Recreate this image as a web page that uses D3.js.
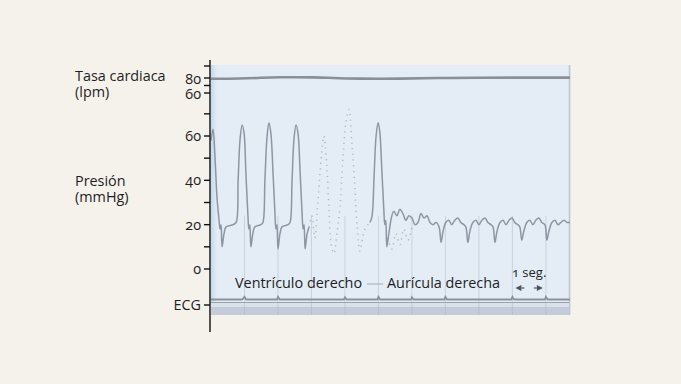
<!DOCTYPE html>
<html>
<head>
<meta charset="utf-8">
<script src="https://cdn.jsdelivr.net/npm/d3@7"></script>
<style>
  body { margin: 0; background: #f5f2ec; }
  svg { display: block; font-family: "Open Sans", "Noto Sans", sans-serif; }
  .lbl { fill: #1e1e1e; font-size: 14.4px; font-variant-numeric: oldstyle-nums; font-feature-settings: "onum" 1; }
  .trace { fill: none; stroke: #838c9a; stroke-width: 1.5; stroke-linejoin: round; opacity: 0.9; }
  .dots { fill: none; stroke: #7b8492; stroke-width: 1.5; stroke-dasharray: 1.2 4.5; opacity: 0.5; }
</style>
</head>
<body>
<svg width="681" height="384"></svg>
<script>
// time in seconds, pressure in mmHg, heart rate in lpm
const pressureTicks = [0, 10, 20, 30, 40, 50, 60, 70];
const pressureLabels = [0, 20, 40, 60];
const hrTicks = [60, 70, 80, 96];
const hrLabels = [60, 80];
const timeMarks = [1, 2, 3, 4, 5, 6, 7, 8, 9, 10];

// heart rate trace
const heartRate = [
  [0, 79], [0.87, 79], [1.61, 80.5], [1.91, 81], [3.25, 81], [3.55, 80],
  [4.45, 79], [5.64, 79], [6.84, 80], [7.43, 80.5], [10.72, 80.5]
];

// right ventricle, first part (solid)
const rvPressure1 = [
  [0.00, 58], [0.06, 63], [0.12, 50], [0.18, 32], [0.24, 22], [0.27, 18], [0.30, 20],
  [0.33, 10], [0.39, 16], [0.45, 19], [0.66, 20], [0.75, 21], [0.81, 40], [0.87, 59],
  [0.93, 65], [0.99, 61], [1.04, 44], [1.10, 25], [1.13, 18], [1.16, 20], [1.19, 10],
  [1.25, 16], [1.31, 19], [1.49, 20], [1.55, 21], [1.61, 40], [1.67, 59], [1.73, 66],
  [1.79, 61], [1.85, 44], [1.91, 25], [1.94, 18], [1.97, 20], [2.00, 9], [2.06, 16],
  [2.12, 19], [2.30, 20], [2.36, 21], [2.42, 40], [2.48, 59], [2.54, 65], [2.60, 61],
  [2.66, 44], [2.72, 25], [2.75, 18], [2.78, 20], [2.81, 9], [2.87, 16], [2.93, 19]
];

// catheter pull-back artefact (faint, dotted)
const pullback = [
  [2.93, 19], [3.01, 24], [3.10, 14], [3.19, 30], [3.28, 48], [3.37, 60], [3.46, 46],
  [3.52, 28], [3.58, 12], [3.67, 7], [3.76, 16], [3.85, 28], [3.94, 50], [4.03, 66],
  [4.12, 72], [4.21, 56], [4.30, 36], [4.36, 20], [4.45, 8], [4.54, 15], [4.63, 19],
  [4.75, 21]
];

// right ventricle, last beat (solid)
const rvPressure2 = [
  [4.75, 21], [4.81, 24], [4.87, 42], [4.93, 60], [4.99, 66], [5.04, 62], [5.10, 45],
  [5.16, 27], [5.19, 20], [5.22, 22], [5.25, 10], [5.31, 16], [5.37, 22]
];

// right atrium (solid)
const raPressure = [
  [5.37, 22], [5.46, 26], [5.55, 24], [5.64, 27], [5.73, 25], [5.82, 22], [5.91, 24],
  [6.00, 23], [6.09, 20], [6.18, 21], [6.27, 25], [6.36, 23], [6.45, 24], [6.54, 21],
  [6.63, 20], [6.72, 21], [6.81, 19], [6.87, 12], [6.93, 17], [7.01, 21], [7.10, 22],
  [7.19, 20], [7.28, 22], [7.37, 23], [7.46, 21], [7.55, 20], [7.61, 19], [7.67, 12],
  [7.73, 17], [7.82, 21], [7.91, 22], [8.00, 20], [8.09, 22], [8.18, 23], [8.27, 21],
  [8.36, 20], [8.42, 19], [8.48, 12], [8.54, 17], [8.63, 21], [8.72, 22], [8.81, 20],
  [8.90, 22], [8.99, 23], [9.07, 21], [9.16, 20], [9.22, 19], [9.28, 13], [9.34, 17],
  [9.43, 21], [9.52, 22], [9.61, 20], [9.70, 22], [9.79, 23], [9.88, 21], [9.97, 20],
  [10.03, 13], [10.09, 17], [10.18, 21], [10.27, 22], [10.36, 20], [10.45, 21],
  [10.54, 22], [10.63, 21], [10.72, 21]
];

// scattered pen marks at the transition
const raScatter = [
  [5.28, 14], [5.40, 9], [5.52, 16], [5.64, 11], [5.76, 18], [5.88, 13], [6.00, 19]
];

// ECG strip (arbitrary units)
const ecg = [
  [0, 0], [0.93, 0], [1.0, 0.6], [1.05, 0], [1.97, 0], [2.0, 0.6], [2.05, 0],
  [3.97, 0], [4.0, 0.5], [4.05, 0], [4.97, 0], [5.0, 0.6], [5.05, 0], [5.97, 0],
  [6.0, 0.5], [6.05, 0], [6.97, 0], [7.0, 0.6], [7.05, 0], [8.97, 0], [9.0, 0.6],
  [9.05, 0], [9.97, 0], [10.0, 0.6], [10.05, 0], [10.72, 0]
];

const panel = { left: 211, right: 571, top: 65, bottom: 315 };
const axisX = 210;

const svg = d3.select('svg');

const x = d3.scaleLinear().domain([0, 10.75]).range([panel.left, panel.right]);
const yP = d3.scaleLinear().domain([0, 60]).range([269, 136]);
const yHR = d3.scaleLinear().domain([60, 80]).range([93, 78]);
const yECG = d3.scaleLinear().domain([0, 1]).range([299.5, 295]);

// paper strip
const defs = svg.append('defs');
const grad = defs.append('linearGradient').attr('id', 'edge');
grad.append('stop').attr('offset', '0').attr('stop-color', '#c6d8ec');
grad.append('stop').attr('offset', '1').attr('stop-color', '#e4edf6');

svg.append('rect')
  .attr('x', panel.left).attr('y', panel.top)
  .attr('width', panel.right - panel.left).attr('height', panel.bottom - panel.top)
  .attr('fill', '#e4edf6');
svg.append('rect')
  .attr('x', panel.left).attr('y', panel.top)
  .attr('width', 6).attr('height', panel.bottom - panel.top)
  .attr('fill', 'url(#edge)');
svg.append('line')
  .attr('x1', panel.right - 1.5).attr('x2', panel.right - 1.5)
  .attr('y1', panel.top).attr('y2', panel.bottom)
  .attr('stroke', '#bcc7d3').attr('stroke-width', 1.5);

// ECG band
svg.append('rect')
  .attr('x', panel.left).attr('y', 303)
  .attr('width', panel.right - panel.left - 2).attr('height', 4)
  .attr('fill', '#d9e1eb');
svg.append('rect')
  .attr('x', panel.left).attr('y', 307)
  .attr('width', panel.right - panel.left - 2).attr('height', panel.bottom - 307)
  .attr('fill', '#c4ccda');

// time marks
svg.append('g')
  .selectAll('line')
  .data(timeMarks)
  .enter()
  .append('line')
  .attr('x1', d => x(d)).attr('x2', d => x(d))
  .attr('y1', yP(24)).attr('y2', panel.bottom)
  .attr('stroke', '#a3adba').attr('stroke-width', 1).attr('opacity', 0.4);

const line = (yScale) => d3.line()
  .x(d => x(d[0]))
  .y(d => yScale(d[1]));

// heart rate
svg.append('path')
  .datum(heartRate)
  .attr('fill', 'none')
  .attr('stroke', '#89909a')
  .attr('stroke-width', 2.6)
  .attr('d', line(yHR).curve(d3.curveBasis));

// ECG lines
svg.append('path')
  .datum(ecg)
  .attr('fill', 'none')
  .attr('stroke', '#8b929c')
  .attr('stroke-width', 1.8)
  .attr('d', line(yECG));
svg.append('line')
  .attr('x1', panel.left).attr('x2', panel.right - 2)
  .attr('y1', 302.5).attr('y2', 302.5)
  .attr('stroke', '#9aa1ab').attr('stroke-width', 1.2);

// pressure traces
[rvPressure1, rvPressure2, raPressure].forEach(s => {
  svg.append('path')
    .datum(s)
    .attr('class', 'trace')
    .attr('d', line(yP).curve(d3.curveCatmullRom));
});
[pullback, raScatter].forEach(s => {
  svg.append('path')
    .datum(s)
    .attr('class', 'dots')
    .attr('d', line(yP).curve(d3.curveCatmullRom));
});

// vertical axis
svg.append('line')
  .attr('x1', axisX).attr('x2', axisX)
  .attr('y1', 60).attr('y2', 332)
  .attr('stroke', '#111').attr('stroke-width', 1.4);

const tick = (g, y) => g.append('line')
  .attr('x1', axisX - 6).attr('x2', axisX)
  .attr('y1', y).attr('y2', y)
  .attr('stroke', '#111').attr('stroke-width', 1.4);

const axisG = svg.append('g');
pressureTicks.forEach(v => tick(axisG, yP(v)));
hrTicks.forEach(v => tick(axisG, yHR(v)));
tick(axisG, 305);

axisG.selectAll('text.p')
  .data(pressureLabels)
  .enter()
  .append('text')
  .attr('class', 'lbl p')
  .attr('x', axisX - 9)
  .attr('y', d => yP(d))
  .attr('dy', '0.35em')
  .attr('text-anchor', 'end')
  .text(d => d);

axisG.selectAll('text.h')
  .data(hrLabels)
  .enter()
  .append('text')
  .attr('class', 'lbl h')
  .attr('x', axisX - 9)
  .attr('y', d => yHR(d) + 1)
  .attr('dy', '0.35em')
  .attr('text-anchor', 'end')
  .text(d => d);

axisG.append('text')
  .attr('class', 'lbl')
  .attr('x', axisX - 9).attr('y', 305).attr('dy', '0.35em')
  .attr('text-anchor', 'end')
  .text('ECG');

// axis titles
const title = (lines, y0) => {
  const t = svg.append('text').attr('class', 'lbl').attr('x', 75).attr('y', y0);
  lines.forEach((s, i) => t.append('tspan').attr('x', 75).attr('dy', i ? 15.5 : 0).text(s));
};
title(['Tasa cardiaca', '(lpm)'], 81);
title(['Presión', '(mmHg)'], 186);

// chamber labels
svg.append('text').attr('class', 'lbl').attr('x', 235).attr('y', 288).text('Ventrículo derecho');
svg.append('line')
  .attr('x1', 367).attr('x2', 383).attr('y1', 284).attr('y2', 284)
  .attr('stroke', '#aab4c1').attr('stroke-width', 1.2);
svg.append('text').attr('class', 'lbl').attr('x', 387).attr('y', 288).text('Aurícula derecha');

// one second marker
const secG = svg.append('g');
secG.append('text')
  .attr('class', 'lbl')
  .attr('x', (x(9) + x(10)) / 2).attr('y', 277)
  .attr('text-anchor', 'middle')
  .style('font-size', '13px')
  .text('1 seg.');
const ay = 288;
secG.append('path')
  .attr('d', `M${x(9) + 3},${ay} l6,-3 v6 z M${x(10) - 3},${ay} l-6,-3 v6 z`)
  .attr('fill', '#4d535c');
secG.append('line')
  .attr('x1', x(9) + 9).attr('x2', x(9) + 12).attr('y1', ay).attr('y2', ay)
  .attr('stroke', '#4d535c').attr('stroke-width', 1.2);
secG.append('line')
  .attr('x1', x(10) - 12).attr('x2', x(10) - 9).attr('y1', ay).attr('y2', ay)
  .attr('stroke', '#4d535c').attr('stroke-width', 1.2);
</script>
</body>
</html>
